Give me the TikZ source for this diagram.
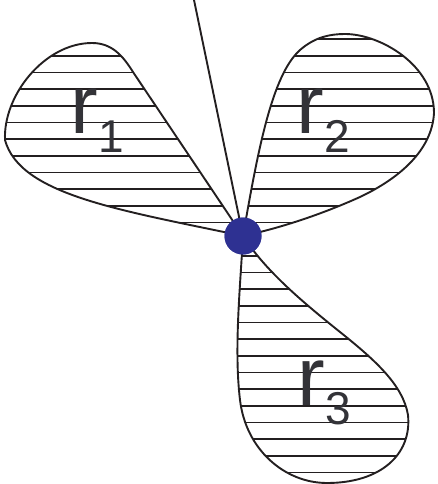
\documentclass[tikz,border=0pt]{standalone}
\usepackage{fontspec}
\setmainfont{Liberation Sans}
\definecolor{lobeBlack}{HTML}{231F20}
\definecolor{lobeBlue}{HTML}{2E3192}
\definecolor{lobeGrey}{HTML}{333338}
\tikzset{
    hatch line/.style={lobeBlack, line width=1.7pt},
    lobe line/.style={draw=lobeBlack, line width=1.9pt, line join=round,
        path picture={\foreach \k in {0,...,28}
            \draw[hatch line] (0,5.7+16.67*\k) -- (437,5.7+16.67*\k);}},
    axis line/.style={lobeBlack, line width=1.9pt},
    hub dot/.style={circle, fill=lobeBlue, minimum size=37pt, inner sep=0pt},
    lobe label/.style={anchor=base west, inner sep=0pt, text=lobeGrey,
        font=\fontsize{83}{83}\selectfont},
}
\newcommand{\lobesub}[1]{\raisebox{-19pt}{\fontsize{46}{46}\selectfont #1}}

\begin{document}
\begin{tikzpicture}[x=1pt, y=-1pt]
    \useasboundingbox (0,0) rectangle (437,484);
    \coordinate (ctr) at (243,236);
    \coordinate (top) at (194,0);

    % three hatched lobes
    \path[lobe line] (ctr) .. controls (120,210) and (20,195) .. (5,140)
        .. controls (3,95) and (45,43) .. (92,43)
        .. controls (112,43) and (123,56) .. (133,72) -- cycle;
    \path[lobe line] (ctr) .. controls (258,150) and (272,75) .. (300,50)
        .. controls (315,37) and (330,34) .. (345,34)
        .. controls (380,34) and (434,65) .. (434,113)
        .. controls (432,150) and (400,178) .. (360,197)
        .. controls (320,215) and (280,228) .. cycle;
    \path[lobe line] (ctr) .. controls (240,290) and (234,350) .. (240,400)
        .. controls (246,450) and (285,483) .. (327,483)
        .. controls (380,483) and (412,455) .. (408,415)
        .. controls (403,385) and (375,360) .. (340,332)
        .. controls (300,300) and (265,270) .. cycle;

    \node[hub dot] (hub) at (ctr) {};
    \draw[axis line] (top) -- (hub.center);
    \node[hub dot] at (hub) {};

    % labels
    \node[lobe label] (r1) at (70.5,133) {r\lobesub{1}};
    \node[lobe label] (r2) at (296.5,133) {r\lobesub{2}};
    \node[lobe label] (r3) at (297.5,405) {r\lobesub{3}};
\end{tikzpicture}
\end{document}
